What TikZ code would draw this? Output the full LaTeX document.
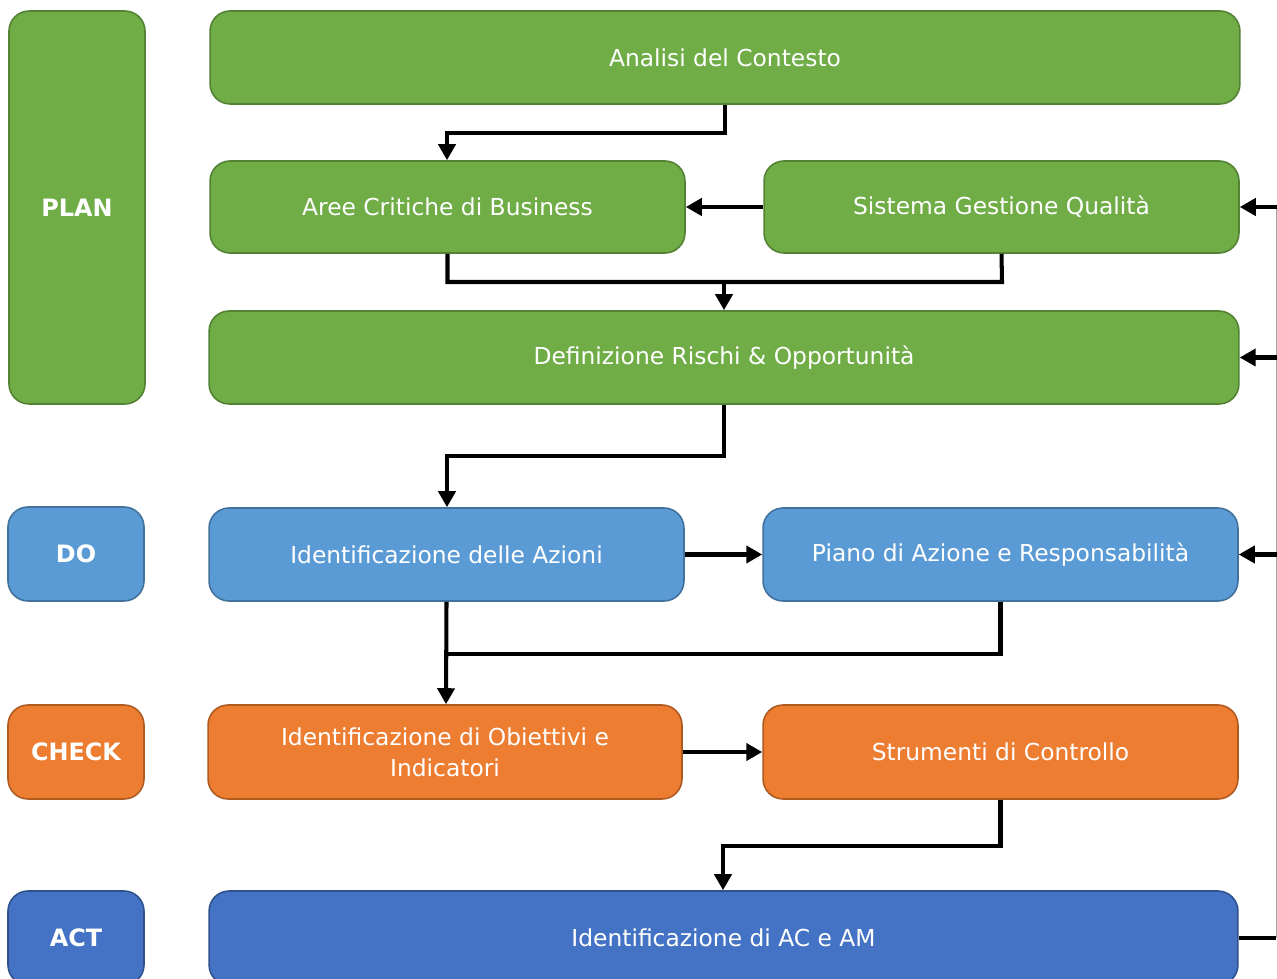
\documentclass[tikz,border=0pt]{standalone}
\usepackage{fontspec}
\setmainfont{DejaVu Sans}
\usetikzlibrary{arrows.meta}
\definecolor{plangreen}{HTML}{70AD47}
\definecolor{planedge}{HTML}{548235}
\definecolor{doblue}{HTML}{5B9BD5}
\definecolor{doedge}{HTML}{41719C}
\definecolor{checkorange}{HTML}{ED7D31}
\definecolor{checkedge}{HTML}{AE5A21}
\definecolor{actblue}{HTML}{4472C4}
\definecolor{actedge}{HTML}{2F528F}
\tikzset{
  box/.style={rectangle,rounded corners=0.4cm,line width=0.9pt,text=white,
    font=\fontsize{13.3}{17.5}\selectfont,align=center,inner sep=0pt},
  phase/.style={box,font=\fontsize{13.6}{16}\selectfont\bfseries,
    minimum width=2.72cm},
  plan/.style={fill=plangreen,draw=planedge},
  do/.style={fill=doblue,draw=doedge},
  check/.style={fill=checkorange,draw=checkedge},
  act/.style={fill=actblue,draw=actedge},
  link/.style={line width=2.3pt,-{Triangle[width=0.34cm,length=0.32cm]}},
  flow/.style={line width=2.3pt}
}
\begin{document}
\begin{tikzpicture}[x=0.02cm,y=-0.02cm]
		\clip (0,0) rectangle (1277,979);
		\fill[white] (0,0) rectangle (1277,979);
		% phases
		\node[phase,plan,minimum height=7.86cm] (planph) at (77,207.5) {PLAN};
		\node[phase,do,minimum height=1.88cm] (doph) at (76,554) {DO};
		\node[phase,check,minimum height=1.88cm] (checkph) at (76,752) {CHECK};
		\node[phase,act,minimum height=1.88cm] (actph) at (76,938) {ACT};
		% steps
		\node[box,plan,minimum width=20.6cm,minimum height=1.86cm] (analisi) at (725,57.5) {Analisi del Contesto};
		\node[box,plan,minimum width=9.5cm,minimum height=1.84cm] (aree) at (447.5,207) {Aree Critiche di Business};
		\node[box,plan,minimum width=9.5cm,minimum height=1.84cm] (sgq) at (1001.5,207) {Sistema Gestione Qualità};
		\node[box,plan,minimum width=20.6cm,minimum height=1.86cm] (rischi) at (724,357.5) {Definizione Rischi \& Opportunità};
		\node[box,do,minimum width=9.5cm,minimum height=1.86cm] (azioni) at (446.5,554.5) {Identificazione delle Azioni};
		\node[box,do,minimum width=9.5cm,minimum height=1.86cm] (piano) at (1000.5,554.5) {Piano di Azione e Responsabilità};
		\node[box,check,minimum width=9.48cm,minimum height=1.88cm] (obiettivi) at (445,752) {Identificazione di Obiettivi e\\Indicatori};
		\node[box,check,minimum width=9.5cm,minimum height=1.88cm] (strumenti) at (1000.5,752) {Strumenti di Controllo};
		\node[box,act,minimum width=20.58cm,minimum height=1.88cm] (acam) at (723.5,938) {Identificazione di AC e AM};
		% connectors
		\coordinate (ret) at (1276,938);
		\draw[link] (analisi.south) |- (447,133) -- (aree.north -| 447,0);
		\draw[link] (sgq.west) -- (aree.east);
		\draw[flow] (aree.south) |- (1002,282) -- (sgq.south);
		\draw[link] (724,282) -- (rischi.north);
		\draw[link] (rischi.south) |- (447,456) -- (azioni.north -| 447,0);
		\draw[link] (azioni.east) -- (piano.west);
		\draw[flow] (piano.south) |- (446,654);
		\draw[link] (azioni.south) -- (obiettivi.north -| 446,0);
		\draw[link] (obiettivi.east) -- (strumenti.west);
		\draw[link] (strumenti.south) |- (723,846) -- (acam.north -| 723,0);
		% feedback from ACT
		\draw[flow] (acam.east) -- (ret);
		\draw[gray!70,line width=0.5pt] (ret) -- (1276,207);
		\draw[link] (1277,207) -- (sgq.east);
		\draw[link] (1277,357.5) -- (rischi.east);
		\draw[link] (1277,554.5) -- (piano.east);
	\end{tikzpicture}
\end{document}
